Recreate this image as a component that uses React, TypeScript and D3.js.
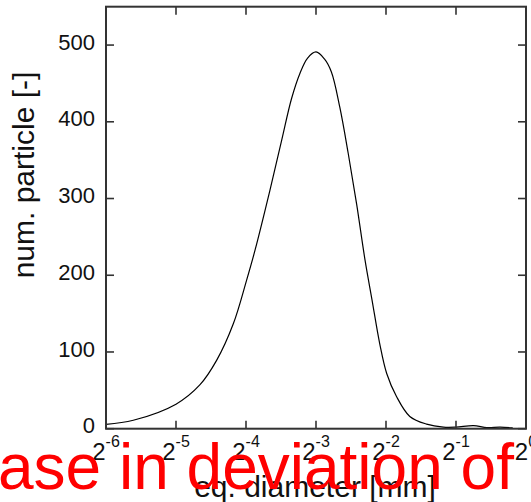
import * as d3 from "d3";
import { useEffect, useRef } from "react";

// curve samples: x as log2 exponent of eq. diameter [mm], y as particle count
const log2Diameter = [
  -6.0, -5.61, -5.0, -4.66, -4.42, -4.18, -3.99, -3.87, -3.66, -3.49, -3.35,
  -3.23, -3.12, -3.0, -2.88, -2.78, -2.66, -2.54, -2.42, -2.3, -2.2, -2.09,
  -1.99, -1.85, -1.66, -1.42, -1.18, -1.0, -0.75, -0.56, -0.37, -0.19,
];
const numParticle = [
  5.7, 11, 32, 57, 89, 137, 194, 233, 310, 376, 430, 463, 483, 491, 482, 465,
  419, 359, 293, 220, 168, 111, 72, 42, 16, 6, 2, 2, 4, 1.5, 2, 1,
];
const xTickExponents = [-6, -5, -4, -3, -2, -1, 0];
const yTicks = [0, 100, 200, 300, 400, 500];

const W = 531;
const H = 502;
const FONT = "'Liberation Sans', Arial, Helvetica, sans-serif";

export default function App() {
  const ref = useRef<SVGSVGElement>(null);

  useEffect(() => {
    const svg = d3.select(ref.current);
    svg.selectAll("*").remove();

    const left = 106, right = 526, top = 6.7, bottom = 428.7;

    const x = d3.scaleLog().base(2).domain([2 ** -6, 1]).range([left, right]);
    const y = d3.scaleLinear().domain([0, 550]).range([bottom, top]);

    svg.append("rect").attr("width", W).attr("height", H).attr("fill", "white");

    svg.append("clipPath").attr("id", "plot-clip")
      .append("rect")
      .attr("x", left).attr("y", top)
      .attr("width", right - left).attr("height", bottom - top);

    const pts = log2Diameter.map((e, i) => [2 ** e, numParticle[i]] as [number, number]);
    const line = d3.line<[number, number]>()
      .x((d) => x(d[0]))
      .y((d) => y(d[1]))
      .curve(d3.curveCatmullRom.alpha(0.5));

    svg.append("path")
      .attr("clip-path", "url(#plot-clip)")
      .attr("d", line(pts))
      .attr("fill", "none")
      .attr("stroke", "#000")
      .attr("stroke-width", 1.2);

    const frameColor = "#333";
    const tickLen = 8;

    // ticks on all four sides, pointing inward
    const ticks = svg.append("g").attr("stroke", frameColor).attr("stroke-width", 1.6);
    xTickExponents.forEach((e) => {
      const px = x(2 ** e);
      ticks.append("line").attr("x1", px).attr("x2", px).attr("y1", bottom).attr("y2", bottom - tickLen);
      ticks.append("line").attr("x1", px).attr("x2", px).attr("y1", top).attr("y2", top + tickLen);
    });
    yTicks.forEach((v) => {
      const py = y(v);
      ticks.append("line").attr("x1", left).attr("x2", left + tickLen).attr("y1", py).attr("y2", py);
      ticks.append("line").attr("x1", right).attr("x2", right - tickLen).attr("y1", py).attr("y2", py);
    });

    svg.append("rect")
      .attr("x", left).attr("y", top)
      .attr("width", right - left).attr("height", bottom - top)
      .attr("fill", "none")
      .attr("stroke", frameColor)
      .attr("stroke-width", 2);

    // y tick labels
    svg.append("g")
      .selectAll("text")
      .data(yTicks)
      .join("text")
      .attr("x", 95)
      .attr("y", (d) => y(d) + 4.7)
      .attr("text-anchor", "end")
      .style("font-family", FONT)
      .style("font-size", "22px")
      .attr("fill", "#111")
      .text((d) => d);

    // x tick labels: 2 with superscript exponent
    const xl = svg.append("g")
      .selectAll("text")
      .data(xTickExponents)
      .join("text")
      .attr("x", (d) => x(2 ** d))
      .attr("y", 460)
      .attr("text-anchor", "middle")
      .style("font-family", FONT)
      .attr("fill", "#111");
    xl.append("tspan").style("font-size", "24px").text("2");
    xl.append("tspan").style("font-size", "16px").attr("dy", -13)
      .text((d) => `${d}`);

    svg.append("text")
      .attr("x", 315)
      .attr("y", 497)
      .attr("text-anchor", "middle")
      .style("font-family", FONT)
      .style("font-size", "30px")
      .attr("fill", "#111")
      .text("eq. diameter [mm]");

    svg.append("text")
      .attr("transform", "translate(33.5,175) rotate(-90)")
      .attr("text-anchor", "middle")
      .style("font-family", FONT)
      .style("font-size", "30px")
      .attr("fill", "#111")
      .text("num. particle [-]");

    svg.append("text")
      .attr("x", -2)
      .attr("y", 489)
      .style("font-family", FONT)
      .style("font-size", "64px")
      .attr("fill", "#ff0000")
      .text("ase in deviation of");
  }, []);

  return (
    <svg
      ref={ref}
      width={W}
      height={H}
      style={{ position: "absolute", left: 0, top: 0, display: "block" }}
    />
  );
}
